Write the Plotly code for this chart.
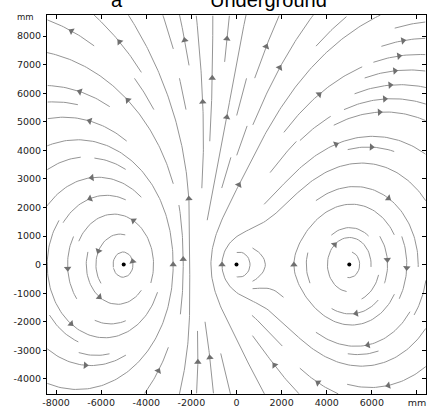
import math
import plotly.graph_objects as go

# ---------------- data ----------------
conductor_x = [-5000, 0, 5000]          # mm
conductor_y = [0, 0, 0]                 # mm
conductor_current = [1.0, -0.5, -0.5]   # relative phase currents (a, b, c)

x_range = [-8400, 8400]
y_range = [-4530, 8740]
x_tickvals = [-8000, -6000, -4000, -2000, 0, 2000, 4000, 6000, 8000]
x_ticktext = ["-8000", "-6000", "-4000", "-2000", "0", "2000", "4000", "6000", "mm"]
y_tickvals = [-4000, -3000, -2000, -1000, 0, 1000, 2000, 3000, 4000, 5000, 6000, 7000, 8000]
y_ticktext = ["-4000", "-3000", "-2000", "-1000", "0", "1000", "2000", "3000",
              "4000", "5000", "6000", "7000", "8000"]
unit_label = "mm"
panel_label = "a"
title_text = "Underground"

# ---------------- figure geometry ----------------
FIG_W, FIG_H = 429, 414
M_L, M_R, M_T, M_B = 47, 3, 15, 20
PW = FIG_W - M_L - M_R
PH = FIG_H - M_T - M_B

sx = PW / (x_range[1] - x_range[0])
sy = PH / (y_range[1] - y_range[0])
cond_px = [((x - x_range[0]) * sx, (y - y_range[0]) * sy)
           for x, y in zip(conductor_x, conductor_y)]


def field_dir(px, py):
    """Unit direction of B (line currents) expressed in screen space."""
    bx = by = 0.0
    for (qx, qy), cur in zip(cond_px, conductor_current):
        dx = (px - qx) / sx
        dy = (py - qy) / sy
        r2 = dx * dx + dy * dy
        if r2 == 0:
            return None
        bx -= cur * dy / r2
        by += cur * dx / r2
    ux, uy = bx * sx, by * sy
    n = math.hypot(ux, uy)
    if n == 0:
        return None
    return ux / n, uy / n


NC = 24
CELL = PW / NC
NCY = int(math.ceil(PH / CELL))
STEP = 0.8
R_STOP = 9.0
MAXLEN = 1500.0
MINLEN = 30.0

mask = [[0] * NCY for _ in range(NC)]


def near_conductor(x, y):
    for qx, qy in cond_px:
        if math.hypot(x - qx, y - qy) < R_STOP:
            return True
    return False


def integrate(start, sign, tid, marked):
    x, y = start
    ci, cj = int(x // CELL), int(y // CELL)
    pts = [(x, y)]
    length = 0.0
    while length < MAXLEN:
        d1 = field_dir(x, y)
        if d1 is None:
            break
        xm = x + sign * 0.5 * STEP * d1[0]
        ym = y + sign * 0.5 * STEP * d1[1]
        d2 = field_dir(xm, ym)
        if d2 is None:
            break
        xn = x + sign * STEP * d2[0]
        yn = y + sign * STEP * d2[1]
        if not (0 <= xn < PW and 0 <= yn < PH):
            break
        if near_conductor(xn, yn):
            break
        i, j = int(xn // CELL), int(yn // CELL)
        if i >= NC or j >= NCY:
            break
        if (i, j) != (ci, cj):
            if mask[i][j] != 0:
                break
            mask[i][j] = tid
            marked.append((i, j))
            ci, cj = i, j
        x, y = xn, yn
        pts.append((x, y))
        length += STEP
    return pts, length


def spiral(nx, ny):
    order = []
    left, top, right, bottom = 0, 0, nx - 1, ny - 1
    while left <= right and top <= bottom:
        for i in range(left, right + 1):
            order.append((i, top))
        for j in range(top + 1, bottom + 1):
            order.append((right, j))
        if top < bottom:
            for i in range(right - 1, left - 1, -1):
                order.append((i, bottom))
        if left < right:
            for j in range(bottom - 1, top, -1):
                order.append((left, j))
        left += 1; right -= 1; top += 1; bottom -= 1
    return order


trajectories = []
tid = 0
for (i, j) in spiral(NC, NCY):
    if mask[i][j] != 0:
        continue
    start = ((i + 0.5) * CELL, (j + 0.5) * CELL)
    if start[1] >= PH or near_conductor(*start):
        continue
    tid += 1
    mask[i][j] = tid
    marked = [(i, j)]
    fwd, lf = integrate(start, +1, tid, marked)
    bwd, lb = integrate(start, -1, tid, marked)
    if lf + lb < MINLEN:
        for (a, b) in marked:
            mask[a][b] = 0
        continue
    traj = list(reversed(bwd)) + fwd[1:]
    trajectories.append(traj)

# ---------------- build traces ----------------
line_x, line_y = [], []
arr_x, arr_y, arr_ang = [], [], []
for traj in trajectories:
    pts = traj[::3] + [traj[-1]]
    for px, py in pts:
        line_x.append(x_range[0] + px / sx)
        line_y.append(y_range[0] + py / sy)
    line_x.append(None)
    line_y.append(None)
    if len(traj) * STEP > 45:
        k = len(traj) // 2
        dx = traj[k + 1][0] - traj[k - 1][0]
        dy = traj[k + 1][1] - traj[k - 1][1]
        arr_x.append(x_range[0] + traj[k][0] / sx)
        arr_y.append(y_range[0] + traj[k][1] / sy)
        arr_ang.append(math.degrees(math.atan2(dx, dy)))

fig = go.Figure()
fig.add_trace(go.Scatter(x=line_x, y=line_y, mode="lines",
                         line=dict(color="#959595", width=1.0),
                         hoverinfo="skip", showlegend=False))
fig.add_trace(go.Scatter(x=arr_x, y=arr_y, mode="markers",
                         marker=dict(symbol="triangle-up", size=6.5, angle=arr_ang,
                                     color="#6f6f6f", line=dict(width=0)),
                         hoverinfo="skip", showlegend=False))
fig.add_trace(go.Scatter(x=conductor_x, y=conductor_y, mode="markers",
                         marker=dict(symbol="circle", size=4, color="black"),
                         hoverinfo="skip", showlegend=False))
# helper trace for right-side axis
fig.add_trace(go.Scatter(x=[x_range[0]], y=[y_range[0]], yaxis="y2", mode="markers",
                         marker=dict(size=1, color="rgba(0,0,0,0)"),
                         hoverinfo="skip", showlegend=False))

tick_font = dict(family="DejaVu Sans", size=9.5, color="#222222")
fig.update_layout(
    width=FIG_W, height=FIG_H,
    margin=dict(l=M_L, r=M_R, t=M_T, b=M_B),
    paper_bgcolor="white", plot_bgcolor="white",
    xaxis=dict(range=x_range, tickvals=x_tickvals, ticktext=x_ticktext,
               ticks="inside", ticklen=4, tickcolor="black", mirror="ticks",
               showline=True, linecolor="black", linewidth=1,
               showgrid=False, zeroline=False, tickfont=tick_font),
    yaxis=dict(range=y_range, tickvals=y_tickvals, ticktext=y_ticktext,
               ticks="outside", ticklen=3, tickcolor="black", mirror=True,
               showline=True, linecolor="black", linewidth=1,
               showgrid=False, zeroline=False, tickfont=tick_font),
    yaxis2=dict(range=y_range, tickvals=y_tickvals, overlaying="y", side="right",
                ticks="inside", ticklen=4, tickcolor="black", showticklabels=False,
                showline=False, showgrid=False, zeroline=False),
    annotations=[
        dict(text=unit_label, xref="paper", yref="paper",
             x=(25 - M_L) / PW, y=(FIG_H - M_B - 17) / PH,
             xanchor="center", yanchor="middle", showarrow=False,
             font=dict(family="DejaVu Sans", size=8.5, color="#222222")),
        dict(text=panel_label, xref="paper", yref="paper",
             x=(117 - M_L) / PW, y=(FIG_H - M_B - 12) / PH,
             xanchor="center", yanchor="bottom", showarrow=False, borderpad=0,
             font=dict(family="Liberation Sans", size=20, color="black")),
        dict(text=title_text, xref="paper", yref="paper",
             x=(268 - M_L) / PW, y=(FIG_H - M_B - 12) / PH,
             xanchor="center", yanchor="bottom", showarrow=False, borderpad=0,
             font=dict(family="Liberation Sans", size=20, color="black")),
    ],
)

fig.write_html("out.html", config={"displayModeBar": False},
               post_script="document.body.style.margin='0';")
